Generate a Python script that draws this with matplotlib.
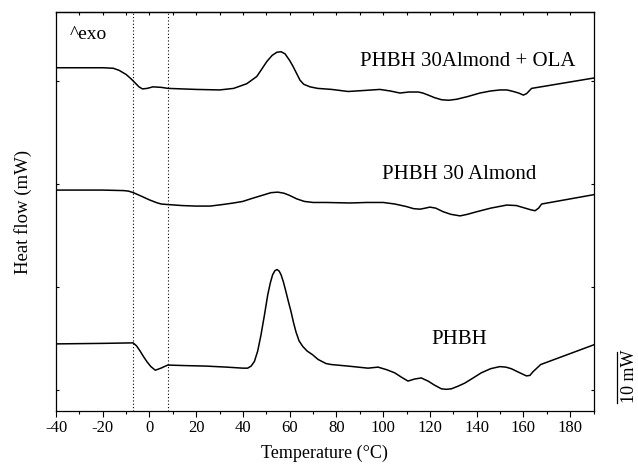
import matplotlib
matplotlib.use("Agg")
import matplotlib.pyplot as plt
from matplotlib.ticker import MultipleLocator

plt.rcParams['font.family'] = ['Liberation Serif', 'DejaVu Serif']
plt.rcParams['axes.unicode_minus'] = False

# DSC traces: temperature (C) and heat flow (mW, shifted)
t_ola = [-40, -20, -15.5, -13, -10, -8, -6, -4.5, -3, -1, 1.5, 5, 8, 20, 30, 36,
         41.6, 45.9, 48, 50.2, 52.5, 54.5, 56.3, 58, 60, 61.5, 64.4, 66, 68.7, 72,
         78, 85, 92, 98.6, 103, 107.2, 111, 115, 117, 119.3, 122, 125, 128, 131.5,
         136, 141.4, 146, 150, 153, 155.7, 158, 160, 161.4, 163.5, 190]
hf_ola = [66.5, 66.5, 66.4, 66.0, 65.2, 64.4, 63.5, 62.8, 62.4, 62.5, 62.8, 62.7,
          62.5, 62.3, 62.2, 62.5, 63.4, 64.8, 66.2, 67.7, 68.9, 69.5, 69.6, 69.2,
          67.9, 66.7, 64.1, 63.3, 62.8, 62.5, 62.3, 61.9, 62.1, 62.3, 62.0, 61.6,
          61.8, 61.8, 61.6, 61.2, 60.7, 60.3, 60.2, 60.4, 60.9, 61.6, 62.0, 62.2,
          62.2, 61.9, 61.6, 61.2, 61.5, 62.5, 64.5]

t_alm = [-40, -20, -11, -9, -6.9, -2.9, 0, 2.8, 5, 7.8, 14, 19.9, 26, 31.3, 36,
         39.9, 44, 48.4, 52, 54.9, 57.5, 59.8, 63, 66.3, 70, 75.5, 85.8, 93, 100,
         105, 110, 113, 115.8, 118, 120, 122.5, 125.7, 129, 132.9, 136, 140, 146,
         152.9, 157, 160, 163, 165, 166.5, 167.8, 190]
hf_alm = [42.8, 42.8, 42.7, 42.6, 42.3, 41.5, 40.9, 40.4, 40.1, 40.0, 39.8, 39.7,
          39.7, 40.0, 40.3, 40.6, 41.2, 41.8, 42.3, 42.4, 42.2, 41.8, 41.1, 40.6,
          40.4, 40.4, 40.3, 40.4, 40.4, 40.1, 39.6, 39.2, 39.1, 39.3, 39.5, 39.3,
          38.6, 38.1, 37.8, 38.1, 38.6, 39.3, 39.9, 39.8, 39.4, 39.0, 38.8, 39.3,
          40.1, 41.9]

t_phbh = [-40, -20, -7, -5.5, -4, -2.5, -1, 0.6, 2.5, 4.9, 7.8, 15, 24.2, 33, 40,
          42, 43.5, 44.9, 46.3, 47.7, 49.2, 50.6, 51.7, 52.7, 53.7, 54.6, 55.5,
          56.3, 57.3, 58.4, 59.5, 60.6, 61.6, 62.7, 64, 65.6, 67.5, 69.8, 72.1,
          75.5, 77.8, 85, 93.5, 97.8, 101.5, 104.9, 108, 110.6, 113.5, 116.3,
          119.2, 122, 124.9, 127, 129.2, 132, 134.9, 138.5, 142, 146, 149.9, 152.5,
          154.8, 158, 161.3, 162.8, 164.1, 167.4, 190]
hf_phbh = [13.0, 13.1, 13.2, 12.6, 11.6, 10.5, 9.5, 8.6, 7.9, 8.3, 8.9, 8.8, 8.7,
           8.5, 8.3, 8.3, 8.7, 9.6, 11.6, 14.7, 18.6, 22.5, 24.8, 26.4, 27.2, 27.4,
           27.1, 26.4, 25.0, 23.1, 21.1, 19.2, 17.2, 15.3, 13.6, 12.5, 11.6, 10.9,
           10.0, 9.2, 9.0, 8.7, 8.3, 8.5, 8.0, 7.4, 6.5, 5.8, 6.2, 6.4, 5.8, 5.0,
           4.3, 4.2, 4.3, 4.8, 5.4, 6.4, 7.4, 8.2, 8.6, 8.5, 8.2, 7.5, 6.8, 6.9,
           7.6, 9.0, 12.8]

labels = ['PHBH 30Almond + OLA', 'PHBH 30 Almond', 'PHBH']
label_pos = [(136.3, 67.8), (132.4, 45.9), (132.6, 13.8)]
tg_lines = [-7, 8]   # dotted guides
y_ticks = [4, 24, 44, 64]

fig = plt.figure(figsize=(6.38, 4.68), dpi=100)
ax = fig.add_axes([56 / 638, 57 / 468, 537.5 / 638, 399 / 468])

for t, hf in [(t_ola, hf_ola), (t_alm, hf_alm), (t_phbh, hf_phbh)]:
    ax.plot(t, hf, color='black', lw=1.1)

for x in tg_lines:
    ax.axvline(x, color='black', lw=0.8, ls=(0, (1, 2)))

for txt, (x, y) in zip(labels, label_pos):
    ax.text(x, y, txt, ha='center', va='center', fontsize=15)
ax.text(-34, 72.9, '^exo', ha='left', va='center', fontsize=14)

# 10 mW scale bar outside the frame
ax.plot([200, 200], [1.5, 11.5], color='black', lw=0.9, clip_on=False)
ax.text(205.2, 6.8, '10 mW', rotation=90, ha='center', va='center', fontsize=13,
        clip_on=False)

ax.set_xlim(-40, 190)
ax.set_ylim(0, 77.3)
ax.xaxis.set_major_locator(MultipleLocator(20))
ax.xaxis.set_minor_locator(MultipleLocator(10))
ax.set_yticks(y_ticks)
ax.set_yticklabels([])
ax.tick_params(axis='x', which='major', direction='out', length=4.5, width=0.8,
               labelsize=12, pad=2)
ax.tick_params(axis='x', which='minor', direction='out', length=2.5, width=0.8)
ax.tick_params(axis='y', direction='in', length=2.5, width=0.8, right=True)

# small inward ticks along the top edge
sec = ax.secondary_xaxis('top')
sec.xaxis.set_major_locator(MultipleLocator(20))
sec.xaxis.set_minor_locator(MultipleLocator(10))
sec.tick_params(which='both', direction='in', length=2, width=0.8, labeltop=False)
sec.spines['top'].set_linewidth(0.9)
for s in ax.spines.values():
    s.set_linewidth(0.9)

ax.set_xlabel('Temperature (°C)', fontsize=13, labelpad=6)
ax.set_ylabel('Heat flow (mW)', fontsize=13.5, labelpad=14)

fig.savefig('out.png', dpi=100)
